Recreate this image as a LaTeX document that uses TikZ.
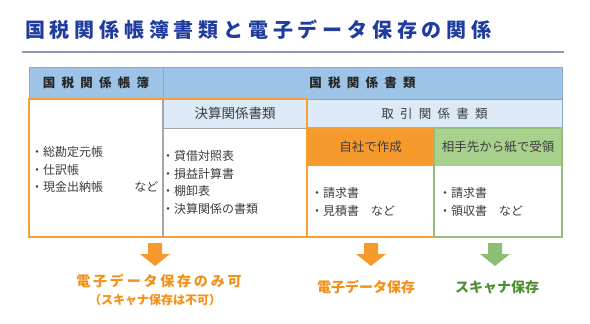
\documentclass[tikz,border=0pt]{standalone}
\usepackage{fontspec}
\usepackage{xcolor}
\usepackage{tikz}
\setmainfont{Noto Sans CJK JP}
\newfontfamily\spacedjp[LetterSpace=50]{Noto Sans CJK JP}
\newfontfamily\titlejp[LetterSpace=24]{Noto Sans CJK JP}
\newfontfamily\labeljp[LetterSpace=20]{Noto Sans CJK JP}

\definecolor{titleblue}{HTML}{1F3C9E}
\definecolor{rulegray}{HTML}{8C9AB5}
\definecolor{headfill}{HTML}{9DC3E6}
\definecolor{headline}{HTML}{8AA8C8}
\definecolor{subfill}{HTML}{DCE9F6}
\definecolor{orgfill}{HTML}{F79A2E}
\definecolor{orgline}{HTML}{F4A033}
\definecolor{grnfill}{HTML}{A9D18E}
\definecolor{grnline}{HTML}{93BF78}
\definecolor{grnarrow}{HTML}{8CBF74}
\definecolor{grntext}{HTML}{4F9035}
\definecolor{orgtext}{HTML}{F39019}
\definecolor{bodytext}{HTML}{3C3C3C}

\begin{document}
\begin{tikzpicture}[
  x=1pt, y=-1pt,
  cell/.style={draw=headline, line width=0.8pt, inner sep=0pt, align=center, text=bodytext},
  headcell/.style={cell, fill=headfill, text=black!85, font={\fontsize{12.5}{15}\spacedjp\bfseries}},
  subcell/.style={cell, fill=subfill, font={\fontsize{13.5}{16}\selectfont}},
  kindcell/.style={inner sep=0pt, align=center, text=bodytext, font={\fontsize{12.5}{15}\selectfont}},
  list/.style={anchor=west, inner sep=0pt, align=left, text=bodytext, font={\fontsize{12}{17.5}\selectfont}},
  result/.style={inner sep=0pt, align=center, font={\fontsize{14}{17}\selectfont\bfseries}},
  frame/.style={line width=2pt},
  downarrow/.pic={\fill (-7,0) -- (7,0) -- (7,11) -- (15,11) -- (0,23) -- (-15,11) -- (-7,11) -- cycle;}
]
\useasboundingbox (0,0) rectangle (590,324);

% Title
\node[anchor=west, inner sep=0pt, text=titleblue, font={\fontsize{20}{24}\titlejp\bfseries}] (title) at (25,30) {国税関係帳簿書類と電子データ保存の関係};
\coordinate (ruleL) at (22,52);
\coordinate (ruleR) at (564,52);
\draw[rulegray, line width=1.5pt] (ruleL) -- (ruleR);

% Header row
\node[headcell, minimum width=134, minimum height=32] (hdbook) at (96,83) {国税関係帳簿};
\node[headcell, minimum width=399, minimum height=32] (hddoc) at (362.5,83) {国税関係書類};

% Sub headers
\node[subcell, minimum width=144, minimum height=29] (subsettle) at (235,113.5) {決算関係書類};
\node[subcell, minimum width=255, minimum height=29, font={\fontsize{12.5}{15}\spacedjp}] (subtrade) at (434.5,113.5) {取引関係書類};

% Own / received
\node[kindcell, fill=orgfill, minimum width=127, minimum height=38] (own) at (370.5,147) {自社で作成};
\node[kindcell, fill=grnfill, minimum width=128, minimum height=38] (recv) at (498,147) {相手先から紙で受領};

% Bodies
\node[cell, draw=black!35, minimum width=144, minimum height=109] (settlebody) at (235,182.5) {};
\node[inner sep=0pt, minimum width=127, minimum height=71] (ownbody) at (370.5,201.5) {};
\node[inner sep=0pt, minimum width=128, minimum height=71] (recvbody) at (498,201.5) {};

% Frames
\draw[frame, orgline] (hdbook.south west) rectangle (settlebody.south east);
\draw[frame, orgline] (own.north west) rectangle (ownbody.south east);
\draw[grnline, line width=1.5pt] (recv.north west) rectangle (recvbody.south east);
\draw[black!35, line width=0.8pt] (subsettle.north west) -- (settlebody.south west);

% Lists
\node[list] (booklist) at (31,169.5) {・総勘定元帳\\・仕訳帳\\・現金出納帳\hspace{2.6em}など};
\node[list] (settlelist) at (162,182.5) {・貸借対照表\\・損益計算書\\・棚卸表\\・決算関係の書類};
\node[list] (ownlist) at (311,202) {・請求書\\・見積書　など};
\node[list] (recvlist) at (439,202) {・請求書\\・領収書　など};

% Arrows
\coordinate (arrbook) at (155,243);
\coordinate (arrown) at (371,243);
\coordinate (arrrecv) at (495,243);
\pic[fill=orgfill] at (arrbook) {downarrow};
\pic[fill=orgfill] at (arrown) {downarrow};
\pic[fill=grnarrow] at (arrrecv) {downarrow};

% Results
\node[result, text=orgtext, font={\fontsize{14}{17}\labeljp\bfseries}] (onlyelec) at (159,281) {電子データ保存のみ可};
\node[result, text=orgtext, font={\fontsize{12}{15}\selectfont\bfseries}] (noscan) at (155,300) {（スキャナ保存は不可）};
\node[result, text=orgtext] (elec) at (366,287) {電子データ保存};
\node[result, text=grntext] (scan) at (497,287) {スキャナ保存};
\end{tikzpicture}
\end{document}
